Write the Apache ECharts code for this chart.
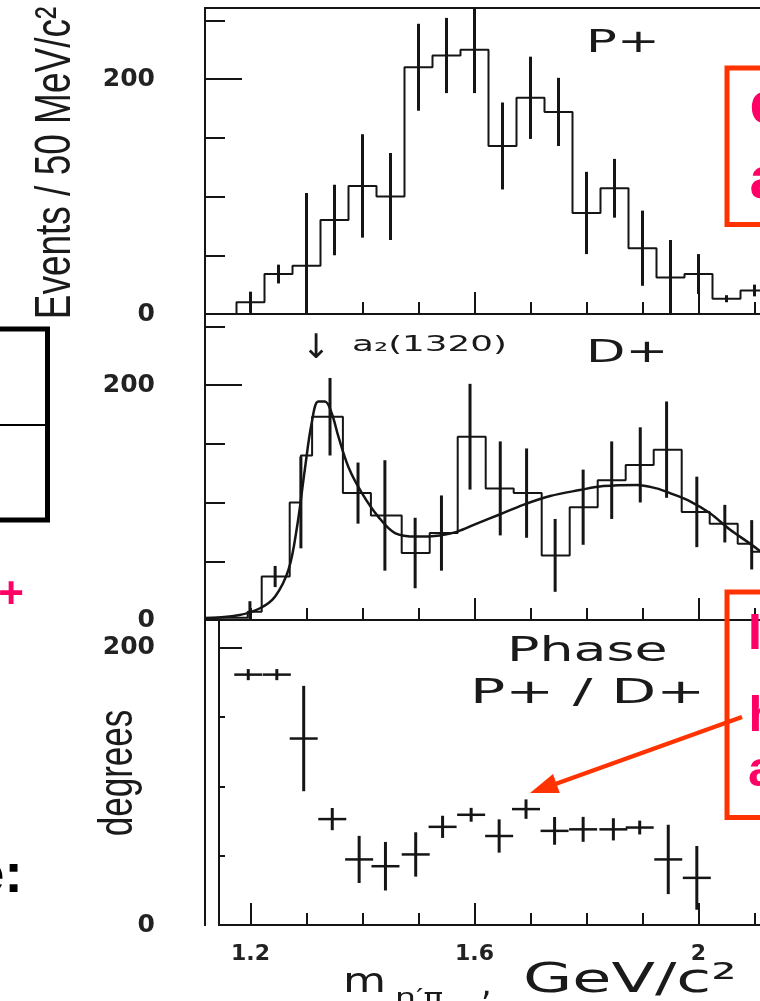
<!DOCTYPE html>
<html><head><meta charset="utf-8">
<script src="https://cdn.jsdelivr.net/npm/echarts@6/dist/echarts.min.js"></script>
<style>html,body{margin:0;padding:0;background:#fff}#c{width:760px;height:1001px}</style>
</head><body><div id="c"></div>
<script>
// ---------------- data ----------------
const X_TICKS = [1.2, 1.3, 1.4, 1.5, 1.6, 1.7, 1.8, 1.9, 2.0, 2.1];
const X_MAJOR_TICKS = [1.6, 2.0];
const X_MAJOR_TICKS_PHASE = [1.2, 1.6, 2.0];
const X_TICK_LABELS = [1.2, 1.6, 2.0];
const Y_TICK_LABELS = [0, 200];
const Y_LONG_TICK = [200];

// P+ wave (events / 50 MeV)
const P_CENTERS = [1.20, 1.25, 1.30, 1.35, 1.40, 1.45, 1.50, 1.55, 1.60, 1.65, 1.70, 1.75, 1.80, 1.85, 1.90, 1.95, 2.00, 2.05, 2.10];
const P_VALUES  = [10, 34, 41, 80, 109, 100, 210, 220, 225, 143, 184, 172, 86, 107, 56, 31, 34, 13, 20];
const P_ERRORS  = [9, 8, 62, 30, 44, 37, 37, 32, 37, 37, 35, 29, 35, 25, 32, 32, 17, 3, 5];
const BIN_WIDTH = 0.05;

// D+ wave histogram (left bin edges / values)
const D_EDGES  = [1.12, 1.195, 1.22, 1.27, 1.29, 1.31, 1.365, 1.415, 1.47, 1.52, 1.57, 1.62, 1.67, 1.72, 1.77, 1.82, 1.87, 1.92, 1.97, 2.02, 2.07, 2.095];
const D_VALUES = [2, 7, 37, 100, 140, 173, 108, 89, 57, 74, 156, 112, 108, 55, 96, 119, 132, 145, 92, 82, 65, 58];
const D_END = 2.15;
// D+ error bars
const D_ERR_M = [1.199, 1.244, 1.29, 1.342, 1.392, 1.44, 1.494, 1.541, 1.592, 1.646, 1.693, 1.744, 1.794, 1.845, 1.896, 1.943, 1.997, 2.047, 2.095];
const D_ERR_V = [8, 37, 100, 173, 108, 89, 57, 74, 156, 112, 108, 55, 96, 119, 132, 145, 92, 82, 64];
const D_ERR_E = [8, 9, 39, 33, 26, 47, 30, 32, 45, 40, 38, 31, 32, 33, 32, 41, 30, 16, 21];
// D+ fit curve
const FIT_M = [1.119, 1.178, 1.217, 1.244, 1.268, 1.283, 1.297, 1.309, 1.321, 1.333, 1.345, 1.357, 1.375, 1.399, 1.428, 1.458, 1.497, 1.538, 1.568, 1.604, 1.646, 1.687, 1.735, 1.788, 1.83, 1.89, 1.925, 1.949, 1.985, 2.02, 2.056, 2.092, 2.12];
const FIT_V = [1.4, 4, 10, 20, 43, 79, 128, 167, 186, 186, 176, 156, 130, 108, 88, 74, 71, 72, 75, 82, 90, 98, 105.5, 110.6, 114, 115, 112, 108, 101, 91, 77, 65, 55];

// Phase P+/D+ (degrees)
const PH_M   = [1.196, 1.247, 1.295, 1.346, 1.394, 1.441, 1.495, 1.543, 1.594, 1.644, 1.692, 1.743, 1.794, 1.848, 1.895, 1.946, 1.997];
const PH_DEG = [180.6, 180.6, 134.5, 76.4, 47.3, 42.4, 50.9, 70.8, 79.5, 64.2, 83.6, 67.9, 69, 69, 70.3, 47.3, 34];
const PH_ERR = [4, 4, 38, 8, 17, 17.5, 16, 8, 5, 12, 7, 10, 9, 8, 5, 25, 23];

// ---------------- layout ----------------
const PX_PER_GEV = 560, X_AT_16 = 474.5, RIGHT_PX = 800, W = 760;
const xMinFor = (left) => 1.6 - (X_AT_16 - left) / PX_PER_GEV;
const X_MAX = 1.6 + (RIGHT_PX - X_AT_16) / PX_PER_GEV;
const EV_MAX = 306 / 58.75 * 50;
const DEG_MAX = 220;
const INK = '#151515';
const FIG_FONT = 'DejaVu Sans';
const PINK = '#ff0066', RED = '#ff3300';

const grids = [
  {left: 205, top: 8, height: 306},
  {left: 205, top: 314, height: 306},
  {left: 219, top: 620, height: 305}
].map(g => Object.assign({right: W - RIGHT_PX, show: true, borderColor: INK, borderWidth: 2, containLabel: false, outerBoundsMode: 'none'}, g));

function xAxisMain(i) {
  return {
    type: 'value', gridIndex: i, min: xMinFor(grids[i].left), max: X_MAX, position: 'bottom',
    axisLine: {show: true, onZero: false, lineStyle: {color: INK, width: 2}},
    axisTick: {show: true, inside: true, length: 12, customValues: X_TICKS, lineStyle: {color: INK, width: 2}},
    axisLabel: i === 2 ? {show: true, customValues: X_TICK_LABELS, margin: 18,
      formatter: v => String(Math.round(v * 10) / 10), color: '#222', fontFamily: FIG_FONT, fontSize: 22, fontWeight: 'bold'} : {show: false},
    splitLine: {show: false}
  };
}
function xAxisMajor(i) {
  return {
    type: 'value', gridIndex: i, min: xMinFor(grids[i].left), max: X_MAX, position: 'bottom',
    axisLine: {show: false, onZero: false},
    axisTick: {show: true, inside: true, length: 22, customValues: i === 2 ? X_MAJOR_TICKS_PHASE : X_MAJOR_TICKS, lineStyle: {color: INK, width: 2}},
    axisLabel: {show: false}, splitLine: {show: false}
  };
}
function yAxisMain(i) {
  const ph = i === 2;
  return {
    type: 'value', gridIndex: i, min: 0, max: ph ? DEG_MAX : EV_MAX, interval: 50, position: 'left',
    axisLine: {show: true, onZero: false, lineStyle: {color: INK, width: 2}},
    axisTick: {show: true, inside: true, length: ph ? 6 : 20, lineStyle: {color: INK, width: 2}},
    axisLabel: {show: true, customValues: Y_TICK_LABELS, margin: ph ? 64 : 50, color: '#222',
      fontFamily: FIG_FONT, fontSize: 25, fontWeight: 'bold'},
    splitLine: {show: false}
  };
}
function yAxisLong(i) {
  const ph = i === 2;
  return {
    type: 'value', gridIndex: i, min: 0, max: ph ? DEG_MAX : EV_MAX, interval: 50, position: 'left',
    axisLine: {show: false, onZero: false},
    axisTick: {show: true, inside: true, length: ph ? 23 : 37, customValues: Y_LONG_TICK, lineStyle: {color: INK, width: 2}},
    axisLabel: {show: false}, splitLine: {show: false}
  };
}

function errBarRender(params, api) {
  const m = api.value(0), v = api.value(1), e = api.value(2);
  const a = api.coord([m, v - e]), b = api.coord([m, v + e]);
  return {type: 'line', shape: {x1: a[0], y1: a[1], x2: b[0], y2: b[1]}, style: {stroke: INK, lineWidth: 3}};
}
function crossRender(params, api) {
  const m = api.value(0), v = api.value(1), e = api.value(2);
  const a = api.coord([m, v - e]), b = api.coord([m, v + e]);
  const l = api.coord([m - BIN_WIDTH / 2, v]), r = api.coord([m + BIN_WIDTH / 2, v]);
  return {type: 'group', children: [
    {type: 'line', shape: {x1: a[0], y1: a[1], x2: b[0], y2: b[1]}, style: {stroke: INK, lineWidth: 3}},
    {type: 'line', shape: {x1: l[0], y1: l[1], x2: r[0], y2: r[1]}, style: {stroke: INK, lineWidth: 2.5}}
  ]};
}

const pHist = [[P_CENTERS[0] - BIN_WIDTH / 2, 0]]
  .concat(P_CENTERS.map((c, i) => [c - BIN_WIDTH / 2, P_VALUES[i]]))
  .concat([[P_CENTERS[P_CENTERS.length - 1] + BIN_WIDTH / 2, P_VALUES[P_VALUES.length - 1]]]);
const dHist = D_EDGES.map((e, i) => [e, D_VALUES[i]]).concat([[D_END, D_VALUES[D_VALUES.length - 1]]]);

const histStyle = {type: 'line', step: 'end', showSymbol: false, silent: true, lineStyle: {color: INK, width: 2}, z: 3};

function txt(o) {
  return {type: 'text', x: o.x, y: o.y, rotation: o.rot || 0, scaleX: o.sx || 1, z: 100, silent: true,
    style: {text: o.t, fill: o.fill || '#1a1a1a', fontFamily: o.ff || FIG_FONT, fontSize: o.fs,
      fontWeight: o.fw || 'normal', align: o.al || 'left', verticalAlign: o.va || 'middle'}};
}

const option = {
  animation: false,
  backgroundColor: '#ffffff',
  grid: grids,
  xAxis: [xAxisMain(0), xAxisMain(1), xAxisMain(2), xAxisMajor(0), xAxisMajor(1), xAxisMajor(2)],
  yAxis: [yAxisMain(0), yAxisMain(1), yAxisMain(2), yAxisLong(0), yAxisLong(1), yAxisLong(2)],
  series: [
    Object.assign({name: 'P+', xAxisIndex: 0, yAxisIndex: 0, data: pHist}, histStyle),
    {name: 'P+ err', type: 'custom', xAxisIndex: 0, yAxisIndex: 0, clip: true, silent: true, z: 4,
      renderItem: errBarRender, data: P_CENTERS.map((c, i) => [c, P_VALUES[i], P_ERRORS[i]])},
    Object.assign({name: 'D+', xAxisIndex: 1, yAxisIndex: 1, data: dHist}, histStyle),
    {name: 'D+ err', type: 'custom', xAxisIndex: 1, yAxisIndex: 1, clip: true, silent: true, z: 4,
      renderItem: errBarRender, data: D_ERR_M.map((m, i) => [m, D_ERR_V[i], D_ERR_E[i]])},
    {name: 'fit', type: 'line', xAxisIndex: 1, yAxisIndex: 1, smooth: 0.35, showSymbol: false, silent: true, z: 5,
      lineStyle: {color: INK, width: 2.5}, data: FIT_M.map((m, i) => [m, FIT_V[i]])},
    {name: 'phase', type: 'custom', xAxisIndex: 2, yAxisIndex: 2, clip: true, silent: true, z: 4,
      renderItem: crossRender, data: PH_M.map((m, i) => [m, PH_DEG[i], PH_ERR[i]])}
  ],
  graphic: [
    // outer frame line of the phase panel
    {type: 'line', z: 50, shape: {x1: 205, y1: 620, x2: 205, y2: 926}, style: {stroke: INK, lineWidth: 2}},
    // axis titles
    txt({t: 'Events / 50 MeV/c²', x: 56, y: 163, rot: Math.PI / 2, sx: 0.74, fs: 50, ff: 'Liberation Sans', al: 'center'}),
    txt({t: 'degrees', x: 119, y: 773, rot: Math.PI / 2, sx: 0.73, fs: 48, ff: 'Liberation Sans', al: 'center'}),
    txt({t: 'm', x: 343, y: 983, fs: 34, sx: 1.3}),
    txt({t: 'η′π', x: 395, y: 998, fs: 22, sx: 1.5}),
    txt({t: ',', x: 481, y: 986, fs: 34}),
    txt({t: 'GeV/c²', x: 523, y: 982, fs: 40, sx: 1.59}),
    // panel annotations
    txt({t: 'P+', x: 586, y: 44, fs: 32, sx: 1.6}),
    txt({t: 'D+', x: 586, y: 354, fs: 32, sx: 1.6}),
    txt({t: '↓', x: 316, y: 349, fs: 34, al: 'center'}),
    txt({t: 'a₂(1320)', x: 352, y: 346, fs: 21, sx: 1.7}),
    txt({t: 'Phase', x: 507, y: 652, fs: 33, sx: 1.63}),
    txt({t: 'P+ / D+', x: 470, y: 694, fs: 34, sx: 1.72}),
    // slide decorations (left)
    {type: 'rect', z: 60, shape: {x: -10, y: 329, width: 57.5, height: 191}, style: {fill: 'none', stroke: '#000', lineWidth: 5}},
    {type: 'line', z: 60, shape: {x1: 0, y1: 425, x2: 47, y2: 425}, style: {stroke: '#000', lineWidth: 2}},
    txt({t: '+', x: 11, y: 596, fs: 44, fw: 'bold', al: 'center', fill: PINK, ff: 'Liberation Sans'}),
    txt({t: 'e:', x: 23, y: 905, fs: 56, fw: 'bold', al: 'right', va: 'bottom', fill: '#000', ff: 'Liberation Sans'}),
    // slide decorations (right)
    {type: 'rect', z: 60, shape: {x: 727, y: 68, width: 80, height: 156.5}, style: {fill: 'none', stroke: RED, lineWidth: 5}},
    txt({t: 'e', x: 749.5, y: 106, fs: 60, fw: 'bold', fill: PINK, ff: 'Liberation Sans'}),
    txt({t: 'a', x: 749.5, y: 181, fs: 60, fw: 'bold', fill: PINK, ff: 'Liberation Sans'}),
    {type: 'rect', z: 60, shape: {x: 727, y: 592, width: 80, height: 225.5}, style: {fill: 'none', stroke: RED, lineWidth: 5}},
    txt({t: 'I', x: 748, y: 635, fs: 50, fw: 'bold', fill: PINK, ff: 'Liberation Sans'}),
    txt({t: 'h', x: 748.5, y: 717, fs: 50, fw: 'bold', fill: PINK, ff: 'Liberation Sans'}),
    txt({t: 'a', x: 748, y: 772, fs: 50, fw: 'bold', fill: PINK, ff: 'Liberation Sans'}),
    // red arrow
    {type: 'line', z: 60, shape: {x1: 742, y1: 717, x2: 554, y2: 784.5}, style: {stroke: RED, lineWidth: 4.5}},
    {type: 'polygon', z: 60, shape: {points: [[530, 793], [559.8, 792.9], [553, 774.1]]}, style: {fill: RED}}
  ]
};

const chart = echarts.init(document.getElementById('c'), null, {renderer: 'canvas'});
chart.setOption(option);
</script>
</body></html>
